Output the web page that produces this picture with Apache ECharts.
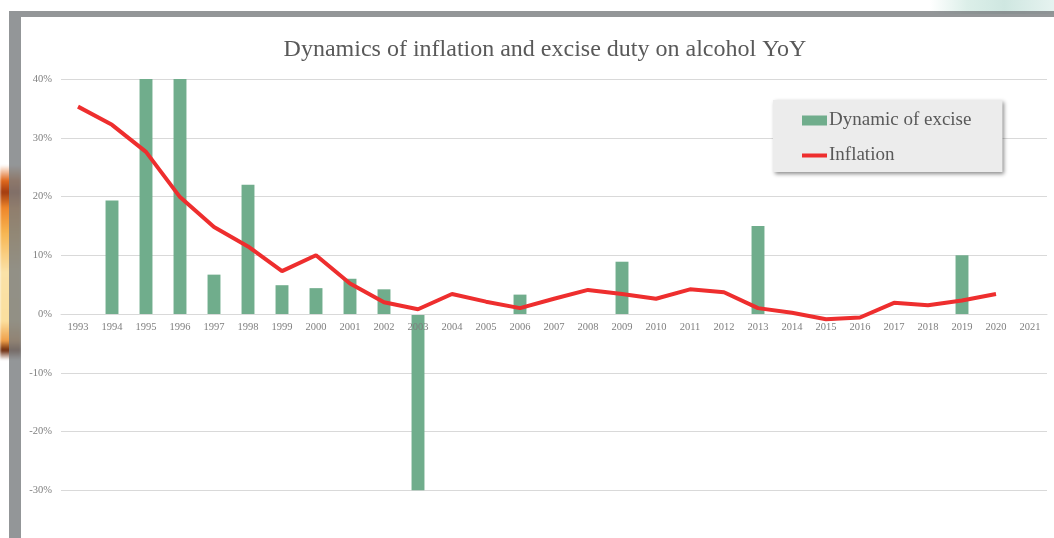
<!DOCTYPE html>
<html>
<head>
<meta charset="utf-8">
<script src="https://cdn.jsdelivr.net/npm/echarts@6/dist/echarts.min.js"></script>
<style>
  html, body {
    margin: 0;
    padding: 0;
    width: 1054px;
    height: 538px;
    overflow: hidden;
    background: #ffffff;
  }
  /* slide frame around the chart */
  .glow {
    position: absolute;
    left: 0;
    top: 165px;
    width: 21px;
    height: 195px;
    background: linear-gradient(to bottom, #fff 0%, #e0691e 8%, #a33c10 14%, #ee862a 22%, #f7b652 35%, #fbe2a8 55%, #fbdf9e 80%, #f0a04a 90%, #6b2a0c 95%, #fff 100%);
    filter: blur(1px);
  }
  .tealglow {
    position: absolute;
    left: 930px;
    top: 0;
    width: 124px;
    height: 14px;
    background: linear-gradient(to right, #fff 0%, #dcefe9 30%, #cfe7e1 60%, #e6f3f0 100%);
  }
  .frame {
    position: absolute;
    left: 9px;
    top: 11px;
    right: 0;
    bottom: 0;
    background: rgba(120, 124, 126, 0.8);
    filter: blur(0.6px);
  }
  .sheet {
    position: absolute;
    left: 21px;
    top: 17px;
    right: 0;
    bottom: 0;
    background: #ffffff;
  }
  #chart {
    position: absolute;
    left: 0;
    top: 0;
    width: 1054px;
    height: 560px;
  }
</style>
</head>
<body>
<div class="glow"></div>
<div class="tealglow"></div>
<div class="frame"></div>
<div class="sheet"></div>
<div id="chart"></div>
<script>
const years = ['1993', '1994', '1995', '1996', '1997', '1998', '1999', '2000', '2001', '2002',
  '2003', '2004', '2005', '2006', '2007', '2008', '2009', '2010', '2011', '2012',
  '2013', '2014', '2015', '2016', '2017', '2018', '2019', '2020', '2021'];

// yearly change of the excise rate, %
const exciseDynamic = [null, 19.3, 40, 40, 6.7, 22, 4.9, 4.4, 6.0, 4.2,
  -30, null, null, 3.3, null, null, 8.9, null, null, null,
  15, null, null, null, null, null, 10, null, null];

// inflation, %
const inflation = [35.3, 32.2, 27.6, 19.9, 14.8, 11.5, 7.3, 10.0, 5.2, 2.0,
  0.8, 3.4, 2.1, 1.0, 2.6, 4.1, 3.4, 2.6, 4.2, 3.7,
  1.0, 0.2, -0.9, -0.6, 1.9, 1.5, 2.3, 3.4, null];

const yTicks = { min: -40, max: 40, step: 10 };

const plotHeight = 470; // grid height in px
// x axis sits on the 0% line
const zeroOffset = -plotHeight * (0 - yTicks.min) / (yTicks.max - yTicks.min);

const chart = echarts.init(document.getElementById('chart'));

const serifFont = '"Liberation Serif", "DejaVu Serif", serif';

chart.setOption({
  animation: false,
  textStyle: { fontFamily: serifFont },
  title: {
    text: 'Dynamics of inflation and excise duty on alcohol YoY',
    left: 540,
    top: 33,
    textAlign: 'center',
    textStyle: {
      fontFamily: serifFont,
      fontSize: 24,
      fontWeight: 'normal',
      color: '#595959'
    }
  },
  legend: {
    orient: 'vertical',
    left: 773,
    top: 100,
    padding: [11, 31, 7, 29],
    itemGap: 16,
    itemWidth: 25,
    itemHeight: 10,
    backgroundColor: '#ececec',
    shadowBlur: 4,
    shadowOffsetX: 2,
    shadowOffsetY: 2,
    shadowColor: 'rgba(0, 0, 0, 0.45)',
    zlevel: 2,
    textStyle: {
      fontFamily: serifFont,
      fontSize: 19,
      color: '#595959',
      padding: [0, 0, 0, -3]
    },
    data: [
      { name: 'Dynamic of excise', icon: 'rect' },
      { name: 'Inflation', icon: 'path://M0,0 L25,0 L25,4 L0,4 Z' }
    ]
  },
  grid: {
    left: 61,
    right: 7,
    top: 79,
    height: plotHeight,
    outerBoundsMode: 'none',
    zlevel: 1,
    z: 5
  },
  xAxis: {
    type: 'category',
    data: years,
    offset: zeroOffset,
    zlevel: 1,
    z: 5,
    axisLine: {
      onZero: false,
      lineStyle: { color: '#d9d9d9', width: 1 }
    },
    axisTick: { show: false },
    axisLabel: {
      color: '#7f7f7f',
      fontSize: 10.5,
      margin: 8,
      interval: 0
    }
  },
  yAxis: {
    type: 'value',
    min: yTicks.min,
    max: yTicks.max,
    interval: yTicks.step,
    axisLine: { show: false },
    axisTick: { show: false },
    axisLabel: {
      color: '#7f7f7f',
      fontSize: 10.5,
      margin: 9,
      formatter: '{value}%'
    },
    splitLine: {
      lineStyle: { color: '#d9d9d9', width: 1 }
    }
  },
  series: [
    {
      name: 'Dynamic of excise',
      type: 'bar',
      data: exciseDynamic,
      barWidth: '38%',
      itemStyle: { color: '#70ad8c' }
    },
    {
      name: 'Inflation',
      type: 'line',
      data: inflation,
      symbol: 'none',
      lineStyle: { color: '#ee2e2e', width: 4 },
      itemStyle: { color: '#ee2e2e' },
      zlevel: 1,
      z: 6
    }
  ]
});
</script>
</body>
</html>
